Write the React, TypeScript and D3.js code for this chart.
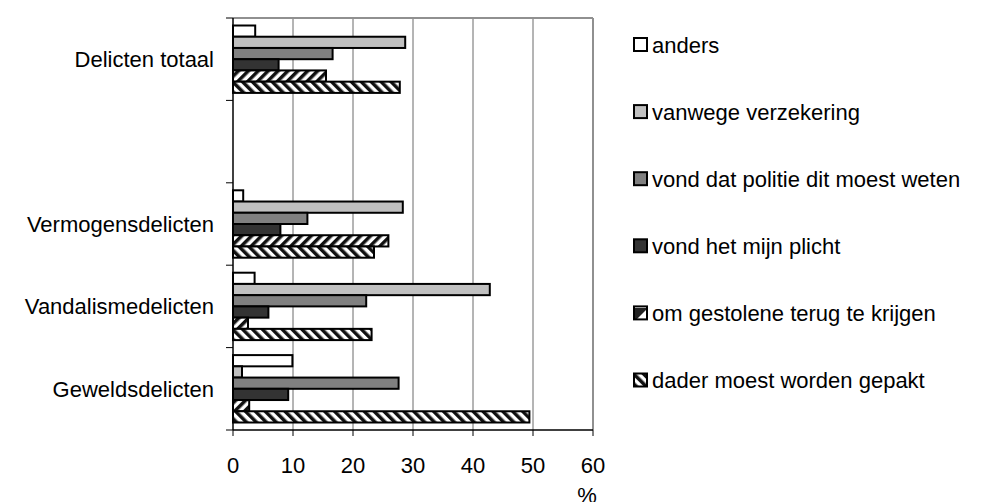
import React from 'react';
import * as d3 from 'd3';

const categories = ['Delicten totaal', '', 'Vermogensdelicten', 'Vandalismedelicten', 'Geweldsdelicten'];
const seriesNames = [
  'anders',
  'vanwege verzekering',
  'vond dat politie dit moest weten',
  'vond het mijn plicht',
  'om gestolene terug te krijgen',
  'dader moest worden gepakt',
];
// values per category (same order as seriesNames); empty row has no bars
const anders = [3.7, null, 1.7, 3.6, 9.9];
const verzekering = [28.7, null, 28.3, 42.8, 1.5];
const politie = [16.6, null, 12.4, 22.2, 27.6];
const plicht = [7.6, null, 7.9, 5.9, 9.2];
const gestolene = [15.5, null, 25.9, 2.5, 2.7];
const dader = [27.8, null, 23.5, 23.1, 49.4];
const xTicks = [0, 10, 20, 30, 40, 50, 60];

const seriesValues = [anders, verzekering, politie, plicht, gestolene, dader];
const fills = ['#ffffff', '#c0c0c0', '#808080', '#333333', 'url(#stripeUp)', 'url(#stripeDown)'];

const W = 988;
const H = 502;
const left = 233;
const right = 593;
const top = 18;
const bottom = 430;
const fs = 22;
const font = 'Arial, "Liberation Sans", sans-serif';

export default function App() {
  const x = d3.scaleLinear().domain([0, 60]).range([left, right]);
  const y = d3.scaleBand<number>().domain(categories.map((_, i) => i)).range([top, bottom]);
  const bw = y.bandwidth();
  const inner = d3.scaleBand<number>().domain(seriesNames.map((_, i) => i)).range([7.5, bw - 7.5]);
  const bh = inner.bandwidth();
  const legendY = d3.scalePoint<number>().domain(seriesNames.map((_, i) => i)).range([44.5, 380]);

  return (
    <svg width={W} height={H} style={{ position: 'absolute', left: 0, top: 0, display: 'block' }} fontFamily={font}>
      <defs>
        <pattern id="stripeUp" width="7" height="7" patternUnits="userSpaceOnUse" patternTransform="rotate(45)">
          <rect width="7" height="7" fill="#fff" />
          <rect width="3.5" height="7" fill="#111" />
        </pattern>
        <pattern id="stripeDown" width="7" height="7" patternUnits="userSpaceOnUse" patternTransform="rotate(-45)">
          <rect width="7" height="7" fill="#fff" />
          <rect width="3.5" height="7" fill="#111" />
        </pattern>
        <pattern id="legUp" width="14" height="14" patternUnits="userSpaceOnUse" x="634" y="0">
          <rect width="14" height="14" fill="#fff" />
          <path d="M0,14 L14,0 L0,0 Z" fill="#222" />
        </pattern>
      </defs>
      <rect width={W} height={H} fill="#fff" />

      {/* grid */}
      {xTicks.slice(1, -1).map(t => (
        <line key={t} x1={x(t)} x2={x(t)} y1={top} y2={bottom} stroke="#6a6a6a" strokeWidth={1} />
      ))}
      <line x1={left} x2={right} y1={top} y2={top} stroke="#909090" strokeWidth={2} />
      <line x1={right} x2={right} y1={top} y2={bottom} stroke="#909090" strokeWidth={2} />

      {/* bars */}
      {categories.map((c, ci) =>
        seriesValues.map((vals, si) => {
          const v = vals[ci];
          if (v == null) return null;
          return (
            <rect
              key={`${ci}-${si}`}
              x={x(0)}
              y={(y(ci) as number) + (inner(si) as number)}
              width={x(v) - x(0)}
              height={bh}
              fill={fills[si]}
              stroke="#000"
              strokeWidth={2}
            />
          );
        })
      )}

      {/* axes */}
      <line x1={left} x2={left} y1={top} y2={bottom} stroke="#000" strokeWidth={1.5} />
      {categories.map((_, i) => (
        <line key={i} x1={left - 7} x2={left} y1={y(i) as number} y2={y(i) as number} stroke="#000" strokeWidth={1} />
      ))}
      <line x1={left - 7} x2={left} y1={bottom} y2={bottom} stroke="#000" strokeWidth={1} />
      <line x1={left} x2={right} y1={bottom} y2={bottom} stroke="#000" strokeWidth={1.5} />
      {xTicks.map(t => (
        <g key={t}>
          <line x1={x(t)} x2={x(t)} y1={bottom} y2={bottom + 6} stroke="#000" strokeWidth={1} />
          <text x={x(t)} y={472.5} fontSize={fs} textAnchor="middle" fill="#000">{t}</text>
        </g>
      ))}
      <text x={587} y={503} fontSize={fs} textAnchor="middle" fill="#000">%</text>

      {categories.map((c, i) => (
        <text key={i} x={214} y={(y(i) as number) + bw / 2 + 8} fontSize={fs} textAnchor="end" fill="#000">{c}</text>
      ))}

      {/* legend */}
      {seriesNames.map((s, i) => {
        const cy = legendY(i) as number;
        const f = i === 4 ? 'url(#legUp)' : i === 5 ? 'url(#stripeDown)' : fills[i];
        return (
          <g key={s}>
            <rect x={634} y={cy - 6.5} width={13} height={13} fill={f} stroke="#000" strokeWidth={2} />
            <text x={652} y={cy + 8} fontSize={fs} fill="#000">{s}</text>
          </g>
        );
      })}
    </svg>
  );
}
